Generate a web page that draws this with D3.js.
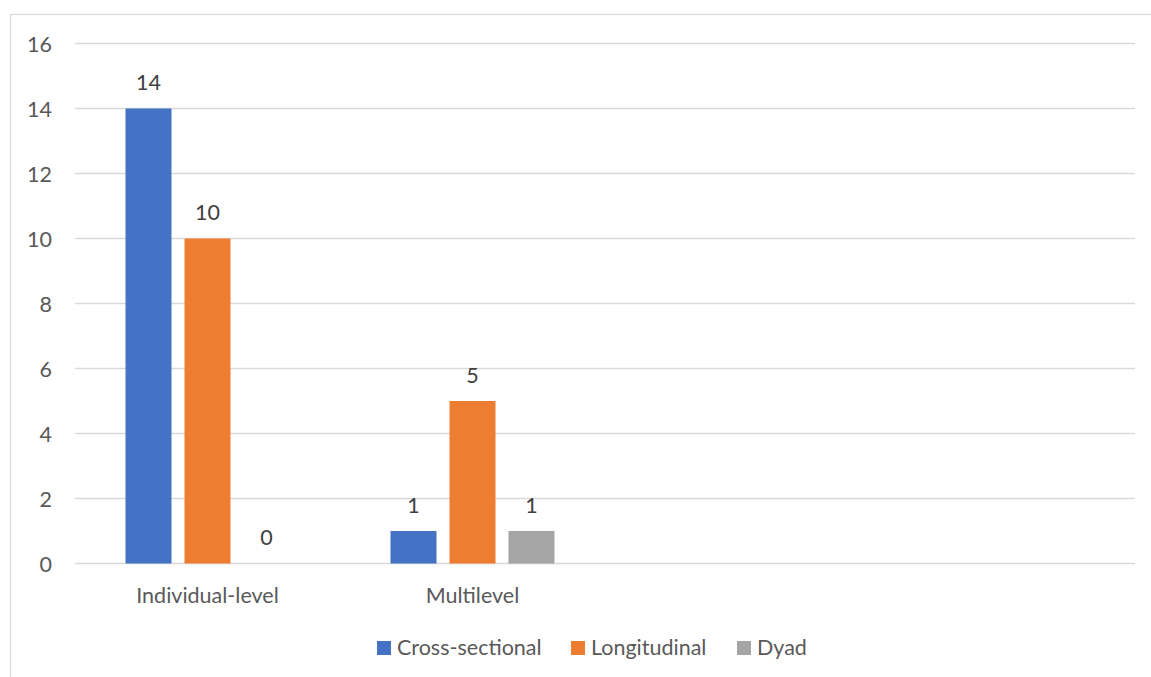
<!DOCTYPE html>
<html><head><meta charset="utf-8">
<script src="https://cdn.jsdelivr.net/npm/d3@7"></script>
<style>body{margin:0;background:#fff;}svg{display:block;font-family:Lato,"Open Sans",sans-serif;}</style>
</head><body><svg id="c" width="1151" height="677"></svg>
<script>
const categories = ["Individual-level", "Multilevel", " ", "  "];
const seriesNames = ["Cross-sectional", "Longitudinal", "Dyad"];
const seriesColors = ["#4472C4", "#ED7D31", "#A5A5A5"];
const crossSectional = [14, 1, null, null];
const longitudinal = [10, 5, null, null];
const dyad = [0, 1, null, null];
const yTicks = [0, 2, 4, 6, 8, 10, 12, 14, 16];

(function () {
const series = [crossSectional, longitudinal, dyad];
const svg = d3.select("#c");
const W = 1151, H = 677;
const pLeft = 75, pRight = 1135, pTop = 43.5, pBottom = 563.5;
const FS = 21.5;
const FONT = "Lato, 'Open Sans', sans-serif";

svg.append("rect").attr("x", 10.5).attr("y", 14.5).attr("width", W + 10).attr("height", H + 10)
  .attr("fill", "#fff").attr("stroke", "#d9d9d9").attr("stroke-width", 1.2);

const x = d3.scaleBand().domain(categories).range([pLeft, pRight]).paddingInner(0).paddingOuter(0);
const y = d3.scaleLinear().domain([0, 16]).range([pBottom, pTop]);
const bw = 46, gap = 13;
const groupW = bw * 3 + gap * 2;

const g = svg.append("g");
g.selectAll("line.grid").data(yTicks).enter().append("line")
  .attr("x1", pLeft).attr("x2", pRight)
  .attr("y1", d => y(d)).attr("y2", d => y(d))
  .attr("stroke", "#d9d9d9").attr("stroke-width", 1.5);

const yAxis = d3.axisLeft(y).tickValues(yTicks).tickSize(0).tickPadding(0);
const ya = svg.append("g").attr("transform", `translate(52,0)`).call(yAxis);
ya.select(".domain").remove();
ya.selectAll("text").attr("font-size", FS).attr("fill", "#595959").attr("font-family", FONT).attr("dy", "0.35em");

const xAxis = d3.axisBottom(x).tickSize(0).tickPadding(0);
const xa = svg.append("g").attr("transform", `translate(0,${pBottom + 39.5})`).call(xAxis);
xa.select(".domain").remove();
xa.selectAll("text").attr("font-size", FS).attr("fill", "#595959").attr("font-family", FONT).attr("dy", "0");

series.forEach((vals, si) => {
  categories.forEach((c, ci) => {
    const v = vals[ci];
    if (v === null) return;
    const x0 = x(c) + (x.bandwidth() - groupW) / 2 + si * (bw + gap);
    if (v > 0) {
      g.append("rect").attr("x", x0).attr("y", y(v)).attr("width", bw).attr("height", y(0) - y(v))
        .attr("fill", seriesColors[si]);
    }
    g.append("text").attr("x", x0 + bw / 2).attr("y", y(v) - 18.5)
      .attr("text-anchor", "middle").attr("font-size", FS).attr("fill", "#404040").text(v);
  });
});

const legendItems = [{x: 377, tx: 397}, {x: 571, tx: 591}, {x: 737, tx: 757}];
seriesNames.forEach((n, i) => {
  svg.append("rect").attr("x", legendItems[i].x).attr("y", 641).attr("width", 14).attr("height", 14).attr("fill", seriesColors[i]);
  svg.append("text").attr("x", legendItems[i].tx).attr("y", 655).attr("font-size", FS).attr("fill", "#595959").text(n);
});
})();
</script></body></html>
